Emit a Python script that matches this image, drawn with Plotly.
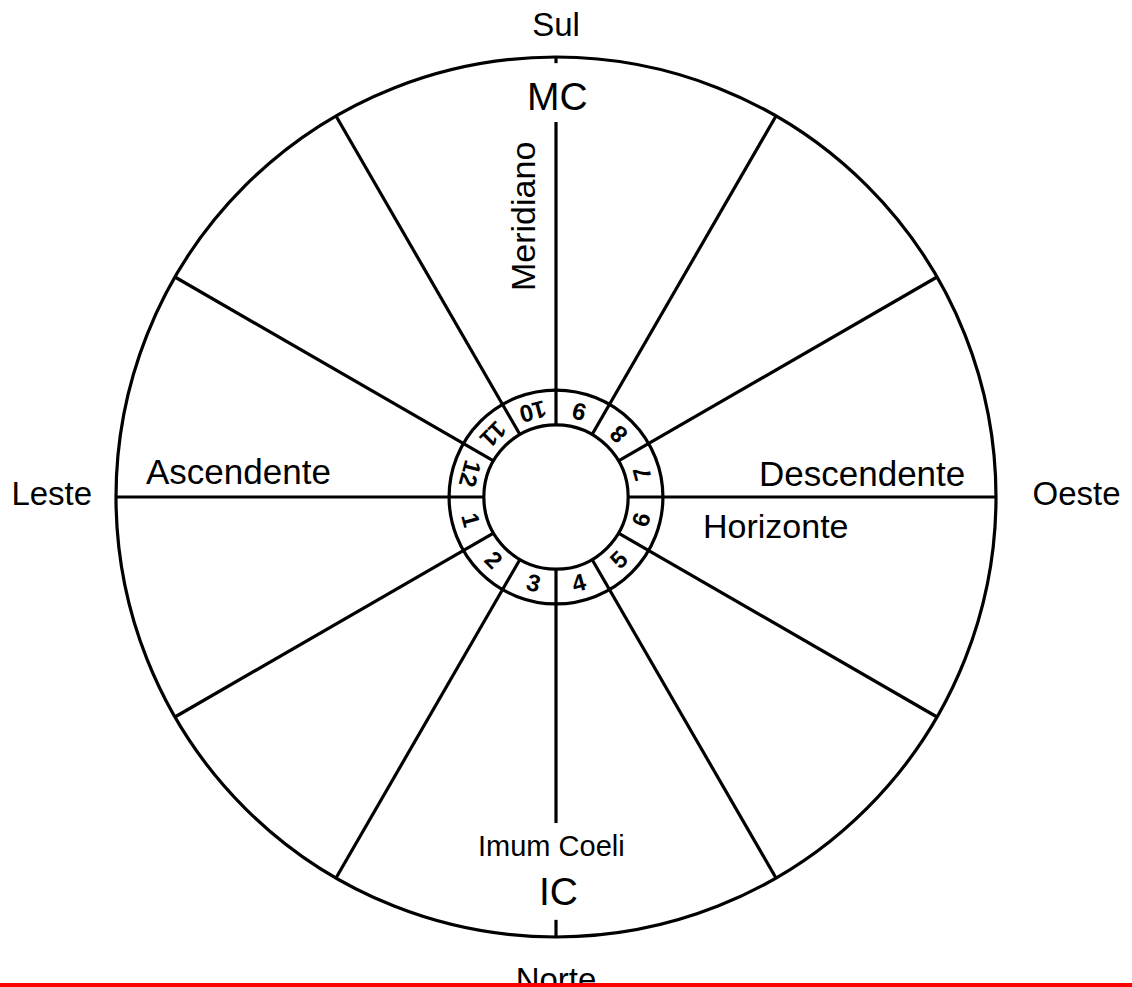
import math
import plotly.graph_objects as go

# ---- data ----
house_numbers = [1, 2, 3, 4, 5, 6, 7, 8, 9, 10, 11, 12]
house_mid_angles = [195, 225, 255, 285, 315, 345, 15, 45, 75, 105, 135, 165]  # degrees, math convention
cusp_angles = [0, 30, 60, 90, 120, 150, 180, 210, 240, 270, 300, 330]
compass_labels = ["Sul", "Norte", "Leste", "Oeste"]
compass_angles = [90, 270, 180, 0]
compass_radii = [1.066, 1.104, 1.146, 1.183]

# radii in units of the outer circle
R_OUT = 1.0
R_RING = 0.243
R_IN = 0.164
R_NUM = 0.201

# gaps on the vertical axis (radius ranges left blank for MC and IC labels)
top_gap = (0.852, 0.986)
bottom_gap = (0.741, 0.961)

PX = 440.0          # pixels per unit
W, H = 1132, 987
CX, CY = 556, 497   # circle centre in figure pixels

fig = go.Figure()
LINE = dict(color="black", width=3.2)

def pol(r, a):
    return r * math.cos(math.radians(a)), r * math.sin(math.radians(a))

# spokes
for a in cusp_angles:
    if a == 90:
        segs = [(R_IN, top_gap[0]), (top_gap[1], R_OUT)]
    elif a == 270:
        segs = [(R_IN, bottom_gap[0]), (bottom_gap[1], R_OUT)]
    else:
        segs = [(R_IN, R_OUT)]
    for r0, r1 in segs:
        x0, y0 = pol(r0, a)
        x1, y1 = pol(r1, a)
        fig.add_trace(go.Scatter(x=[x0, x1], y=[y0, y1], mode="lines",
                                 line=LINE, hoverinfo="skip", showlegend=False))

for r in [R_OUT, R_RING, R_IN]:
    fig.add_shape(type="circle", x0=-r, y0=-r, x1=r, y1=r,
                  line=dict(color="black", width=3.2), layer="above")

# compass labels as trace text (so the red strip can sit above them)
cx = [pol(r, a)[0] for r, a in zip(compass_radii, compass_angles)]
cy = [pol(r, a)[1] for r, a in zip(compass_radii, compass_angles)]
fig.add_trace(go.Scatter(x=cx, y=cy, mode="text", text=compass_labels,
                         textposition="middle center", cliponaxis=False,
                         textfont=dict(family="Arial, Liberation Sans", size=33, color="black"),
                         hoverinfo="skip", showlegend=False))

def ann(text, x, y, size, angle=0, **kw):
    fig.add_annotation(x=x, y=y, text=text, showarrow=False, textangle=angle,
                       xanchor="center", yanchor="middle",
                       font=dict(family="Arial, Liberation Sans", size=size, color="black"), **kw)

def px2d(x, y):
    # reference pixel position relative to the circle centre
    return (x - CX) / PX, (CY - y) / PX

ann("MC", *px2d(557, 96), 39)
ann("IC", *px2d(558, 891), 39)
ann("Imum Coeli", *px2d(551, 846), 29)
ann("Meridiano", *px2d(523, 217), 34, angle=-90)
ann("Ascendente", *px2d(238, 471), 35)
ann("Descendente", *px2d(862, 473), 35)
ann("Horizonte", *px2d(776, 526), 34)

for n, a in zip(house_numbers, house_mid_angles):
    x, y = pol(R_NUM, a)
    ann("<b>%d</b>" % n, x, y, 24, angle=(-90 - a) % 360)

# red strip at the bottom
fig.add_shape(type="rect", xref="paper", yref="paper", x0=0, x1=1, y0=0, y1=4 / H,
              fillcolor="red", line=dict(width=0), layer="above")

fig.update_layout(
    width=W, height=H,
    margin=dict(l=0, r=0, t=0, b=0),
    paper_bgcolor="white", plot_bgcolor="white",
    xaxis=dict(range=[-CX / PX, (W - CX) / PX], visible=False, fixedrange=True),
    yaxis=dict(range=[(CY - H) / PX, CY / PX], visible=False, fixedrange=True),
    showlegend=False,
)

fig.write_html("out.html", config={"displayModeBar": False},
               post_script="document.body.style.margin='0';document.body.style.overflow='hidden';")
